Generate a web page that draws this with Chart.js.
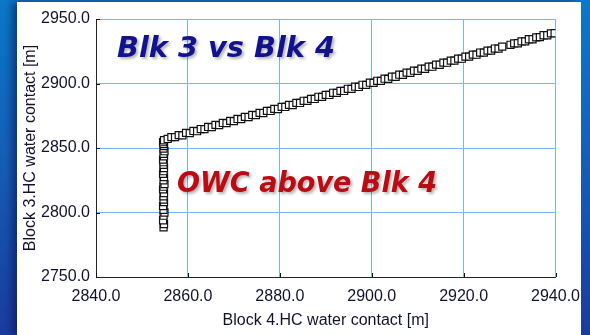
<!DOCTYPE html>
<html lang="en">

<head>
    <meta charset="UTF-8" />
    <title>Blk 3 vs Blk 4</title>
    <script src="https://cdn.jsdelivr.net/npm/chart.js"></script>
    <style>
        * {
            margin: 0;
            padding: 0;
            box-sizing: border-box;
        }

        body {
            width: 590px;
            height: 335px;
            overflow: hidden;
            background: linear-gradient(to bottom, #0b78c9 0%, #1560b8 45%, #1a3c9e 100%);
        }

        .panel {
            position: absolute;
            left: 17px;
            top: 2px;
            width: 564px;
            height: 333px;
            background: #ffffff;
            box-shadow: -5px 0 8px rgba(5, 15, 60, 0.55);
        }

        .edge {
            position: absolute;
            left: 581px;
            top: 0;
            width: 9px;
            height: 335px;
            background: linear-gradient(to bottom, #0b78c9 0%, #1560b8 45%, #1a3c9e 100%);
        }

        canvas {
            position: absolute;
            left: 0;
            top: 0;
        }
    </style>
</head>

<body>
    <div class="panel"></div>
    <canvas id="owcChart" width="590" height="335"></canvas>
    <div class="edge"></div>
    <script>
        // axes
        const X_MIN = 2840, X_MAX = 2940, X_STEP = 20;
        const Y_MIN = 2750, Y_MAX = 2950, Y_STEP = 50;
        const X_TITLE = 'Block 4.HC water contact [m]';
        const Y_TITLE = 'Block 3.HC water contact [m]';

        // vertical stack: Blk 4 contact stuck at ~2855 m
        const stackX = [2854.7, 2854.8, 2854.6, 2854.7, 2854.9, 2854.7, 2854.6, 2854.8, 2854.7, 2854.7,
            2854.8, 2854.6, 2854.7, 2854.9, 2854.7, 2854.8, 2854.6, 2854.7, 2854.8, 2854.7,
            2854.7, 2854.6, 2854.8, 2854.7, 2854.9, 2854.7, 2854.8, 2854.7, 2854.6, 2854.8];
        const stackY = [2788.5, 2791.0, 2794.0, 2797.5, 2800.0, 2802.0, 2805.0, 2808.0, 2810.0, 2812.5,
            2815.0, 2818.0, 2820.0, 2822.0, 2825.0, 2827.5, 2830.0, 2832.0, 2834.5, 2837.0,
            2839.0, 2841.0, 2843.5, 2845.5, 2847.5, 2849.5, 2851.5, 2853.0, 2854.5, 2856.0];

        // trend: both contacts move together
        const trendX = [2855.6, 2856.4, 2857.2, 2858.0, 2858.8, 2859.6, 2860.4, 2861.2, 2862.0, 2862.8,
            2863.6, 2864.4, 2865.2, 2866.0, 2866.8, 2867.6, 2868.4, 2869.2, 2870.0, 2870.8,
            2871.6, 2872.4, 2873.2, 2874.0, 2874.8, 2875.6, 2876.4, 2877.2, 2878.0, 2878.8,
            2879.6, 2880.4, 2881.2, 2882.0, 2882.8, 2883.6, 2884.4, 2885.2, 2886.0, 2886.8,
            2887.6, 2888.4, 2889.2, 2890.0, 2890.8, 2891.6, 2892.4, 2893.2, 2894.0, 2894.8,
            2895.6, 2896.4, 2897.2, 2898.0, 2898.8, 2899.6, 2900.4, 2901.2, 2902.0, 2902.8,
            2903.6, 2904.4, 2905.2, 2906.0, 2906.8, 2907.6, 2908.4, 2909.2, 2910.0, 2910.8,
            2911.6, 2912.4, 2913.2, 2914.0, 2914.8, 2915.6, 2916.4, 2917.2, 2918.0, 2918.8,
            2919.6, 2920.4, 2921.2, 2922.0, 2922.8, 2923.6, 2924.4, 2925.2, 2926.0, 2926.8,
            2927.6, 2928.4, 2930.2, 2931.0, 2931.8, 2932.6, 2933.4, 2934.2, 2935.0, 2935.8,
            2936.6, 2937.4, 2938.2, 2939.0, 2939.8];
        const trendY = [2857.0, 2858.4, 2858.4, 2860.0, 2859.8, 2861.7, 2861.5, 2863.2, 2863.0, 2864.7,
            2864.6, 2866.3, 2866.2, 2867.9, 2867.7, 2869.4, 2869.3, 2871.0, 2870.8, 2872.5,
            2872.4, 2874.1, 2874.0, 2875.6, 2875.5, 2877.2, 2877.1, 2878.8, 2878.7, 2880.3,
            2880.2, 2881.9, 2881.8, 2883.4, 2883.3, 2885.0, 2884.9, 2886.6, 2886.5, 2888.1,
            2888.0, 2889.7, 2889.6, 2891.2, 2891.1, 2892.8, 2892.7, 2894.3, 2894.2, 2895.9,
            2895.8, 2897.5, 2897.3, 2899.0, 2898.9, 2900.6, 2900.5, 2902.1, 2902.0, 2903.7,
            2903.6, 2905.3, 2905.2, 2906.8, 2906.7, 2908.4, 2908.3, 2909.9, 2909.8, 2911.5,
            2911.4, 2913.1, 2913.0, 2914.6, 2914.5, 2916.2, 2916.1, 2917.7, 2917.7, 2919.3,
            2919.2, 2920.8, 2920.8, 2922.4, 2922.3, 2924.0, 2923.9, 2925.5, 2925.5, 2927.1,
            2927.0, 2928.6, 2930.0, 2931.1, 2931.2, 2932.7, 2932.7, 2934.3, 2934.3, 2935.8,
            2935.9, 2937.4, 2937.4, 2938.9, 2939.0];

        // text boxes on the plot
        const notes = [
            { text: 'Blk 3 vs Blk 4', x: 117, y: 57, width: 218, color: '#12128e' },
            { text: 'OWC above Blk 4', x: 177, y: 192, width: 260, color: '#bb0c14' }
        ];

        const points = [];
        stackX.forEach((x, i) => points.push({ x: x, y: stackY[i] }));
        trendX.forEach((x, i) => points.push({ x: x, y: trendY[i] }));

        const TICK_FONT = { family: 'Liberation Sans, Arial, sans-serif', size: 16 };
        const TEXT_COLOR = '#12122e';
        const GRID_COLOR = '#74b6fa';

        // small black ticks pointing into the plot
        const innerTicks = {
            id: 'innerTicks',
            afterDatasetsDraw(chart) {
                const { ctx, chartArea, scales } = chart;
                ctx.save();
                ctx.strokeStyle = '#111';
                ctx.lineWidth = 1;
                ctx.beginPath();
                scales.x.ticks.forEach(t => {
                    const px = Math.round(scales.x.getPixelForValue(t.value)) + 0.5;
                    ctx.moveTo(px, chartArea.bottom);
                    ctx.lineTo(px, chartArea.bottom - 4);
                });
                scales.y.ticks.forEach(t => {
                    const py = Math.round(scales.y.getPixelForValue(t.value)) + 0.5;
                    ctx.moveTo(chartArea.left, py);
                    ctx.lineTo(chartArea.left + 4, py);
                });
                ctx.stroke();
                ctx.restore();
            }
        };

        const noteText = {
            id: 'noteText',
            afterDraw(chart) {
                const ctx = chart.ctx;
                notes.forEach(n => {
                    ctx.save();
                    ctx.font = 'italic bold 28px "DejaVu Sans", sans-serif';
                    const w = ctx.measureText(n.text).width;
                    ctx.translate(n.x, n.y);
                    ctx.scale(n.width / w, 1);
                    ctx.shadowColor = 'rgba(0, 0, 0, 0.3)';
                    ctx.shadowOffsetX = 2;
                    ctx.shadowOffsetY = 2;
                    ctx.shadowBlur = 3;
                    ctx.fillStyle = n.color;
                    ctx.textBaseline = 'alphabetic';
                    ctx.fillText(n.text, 0, 0);
                    ctx.restore();
                });
            }
        };

        new Chart(document.getElementById('owcChart'), {
            type: 'scatter',
            data: {
                datasets: [{
                    data: points,
                    pointStyle: 'rect',
                    pointRadius: 5,
                    pointBackgroundColor: '#ffffff',
                    pointBorderColor: '#111111',
                    pointBorderWidth: 1.2
                }]
            },
            options: {
                responsive: false,
                animation: false,
                layout: { padding: { left: 0, top: 19, right: 33, bottom: 0 } },
                plugins: {
                    legend: { display: false },
                    tooltip: { enabled: false }
                },
                scales: {
                    x: {
                        type: 'linear',
                        min: X_MIN,
                        max: X_MAX,
                        afterFit: s => { s.height = 58; },
                        ticks: {
                            stepSize: X_STEP,
                            padding: 10,
                            font: TICK_FONT,
                            color: TEXT_COLOR,
                            callback: v => v.toFixed(1)
                        },
                        grid: { color: GRID_COLOR, drawTicks: false },
                        border: { color: '#222222', width: 1 },
                        title: {
                            display: true,
                            text: X_TITLE,
                            font: TICK_FONT,
                            color: TEXT_COLOR,
                            padding: { top: 0, bottom: 4.5 }
                        }
                    },
                    y: {
                        type: 'linear',
                        min: Y_MIN,
                        max: Y_MAX,
                        afterFit: s => { s.width = 96; },
                        ticks: {
                            stepSize: Y_STEP,
                            padding: 6,
                            font: TICK_FONT,
                            color: TEXT_COLOR,
                            callback: v => v.toFixed(1)
                        },
                        grid: { color: GRID_COLOR, drawTicks: false },
                        border: { color: '#222222', width: 1 },
                        title: {
                            display: true,
                            text: Y_TITLE,
                            font: TICK_FONT,
                            color: TEXT_COLOR,
                            padding: { top: 20.5, bottom: 0 }
                        }
                    }
                }
            },
            plugins: [innerTicks, noteText]
        });
    </script>
</body>

</html>
